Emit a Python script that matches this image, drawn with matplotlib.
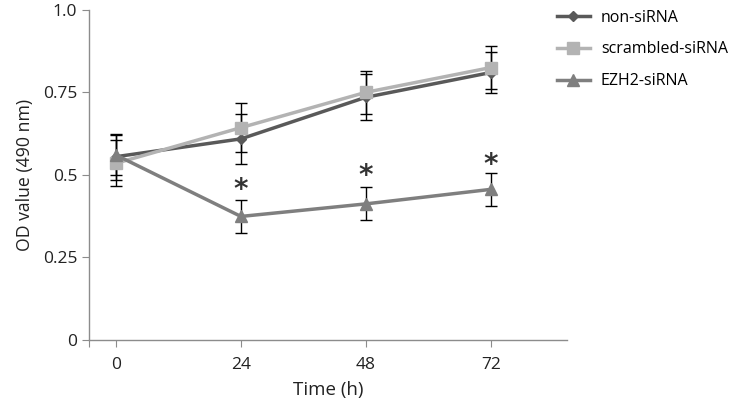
import matplotlib.pyplot as plt
import numpy as np

plt.rcParams['font.family'] = ['Open Sans', 'DejaVu Sans']

time_labels = ['0', '24', '48', '72']
non_sirna = [0.555, 0.609, 0.735, 0.81]
non_sirna_err = [0.07, 0.076, 0.07, 0.063]
scrambled = [0.535, 0.643, 0.75, 0.825]
scrambled_err = [0.07, 0.075, 0.065, 0.064]
ezh2 = [0.56, 0.374, 0.412, 0.456]
ezh2_err = [0.06, 0.05, 0.05, 0.05]
star_pos = [1, 2, 3]
star_y = [0.455, 0.495, 0.53]

fig = plt.figure(figsize=(7.42, 4.09), dpi=100)
ax = fig.add_axes([0.12, 0.169, 0.644, 0.807])

x = np.arange(len(time_labels))
series = [
    (non_sirna, non_sirna_err, '#595959', 'D', 5, 'non-siRNA'),
    (scrambled, scrambled_err, '#b3b3b3', 's', 8, 'scrambled-siRNA'),
    (ezh2, ezh2_err, '#7f7f7f', '^', 9, 'EZH2-siRNA'),
]
for vals, err, col, mk, ms, lab in series:
    ax.errorbar(x, vals, yerr=err, fmt='none', ecolor='black',
                elinewidth=1, capsize=4, capthick=1, zorder=2)
    ax.plot(x, vals, color=col, lw=2.5, marker=mk, markersize=ms,
            label=lab, zorder=3)

for xp, yp in zip(star_pos, star_y):
    ax.text(xp, yp, '*', ha='center', va='center', fontsize=20,
            fontweight='bold', color='#333333', family='DejaVu Sans')

ax.set_xlim(-0.216, 3.61)
ax.set_ylim(0, 1.0)
ax.set_xticks([-0.216, 0, 1, 2, 3])
ax.set_xticklabels([''] + time_labels)
ax.set_yticks([0, 0.25, 0.5, 0.75, 1.0])
ax.set_yticklabels(['0', '0.25', '0.5', '0.75', '1.0'])

for s in ['top', 'right']:
    ax.spines[s].set_visible(False)
for s in ['left', 'bottom']:
    ax.spines[s].set_color('#8c8c8c')
    ax.spines[s].set_linewidth(1)
ax.tick_params(colors='#8c8c8c', labelcolor='#222222', labelsize=12.5,
               length=5, direction='out')
ax.tick_params(axis='x', pad=7)

ax.set_xlabel('Time (h)', fontsize=13.5, color='#222222', labelpad=6)
ax.set_ylabel('OD value (490 nm)', fontsize=12.7, color='#222222', labelpad=6)

fig.legend(loc='upper left', bbox_to_anchor=(0.7507, 0.976), frameon=False,
           fontsize=11.5, handlelength=2.05, handletextpad=0.7,
           labelspacing=0.98, borderpad=0, borderaxespad=0)

fig.savefig('out.png', dpi=100)
